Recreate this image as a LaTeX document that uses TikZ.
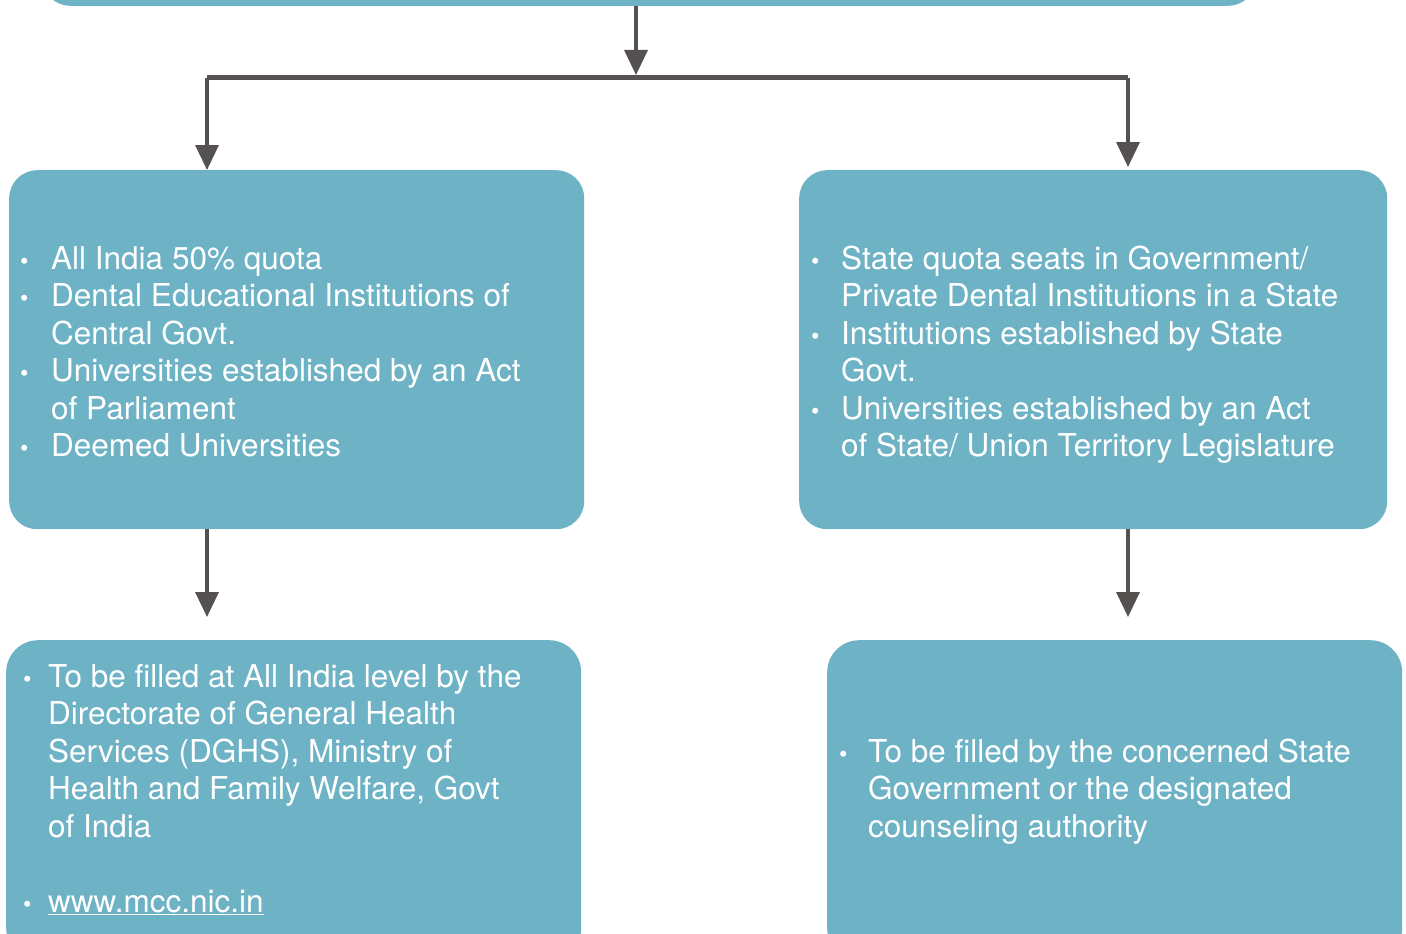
\documentclass[tikz,border=0pt]{standalone}
\usepackage{fontspec}
\setmainfont{TeX Gyre Heros}
\usetikzlibrary{arrows.meta}
\definecolor{boxblue}{HTML}{6EB2C5}
\definecolor{arrowgrey}{HTML}{555150}
\setlength{\parindent}{0pt}
\newcommand{\bul}{{\fontsize{24}{24}\selectfont\textbullet}}
\tikzset{
  box/.style={fill=boxblue, rounded corners=28pt, anchor=north west, inner sep=0pt},
  txt/.style={anchor=base west, inner sep=0pt, text=white,
    font=\fontsize{31.5}{37.5}\selectfont},
  arr/.style={draw=arrowgrey, line width=3.5pt, -{Triangle[length=25pt,width=23pt]}},
  bar/.style={draw=arrowgrey, line width=5pt}
}
\begin{document}
\begin{tikzpicture}[x=1pt,y=-1pt]
\useasboundingbox (0,0) rectangle (1406,934);

% boxes
\node[box, anchor=south west, minimum width=1214pt, minimum height=90pt] (top) at (42,6) {};
\node[box, minimum width=575pt, minimum height=359pt] (central) at (9,170) {};
\node[box, minimum width=588pt, minimum height=359pt] (state) at (799,170) {};
\node[box, rounded corners=32pt, minimum width=575pt, minimum height=320pt] (mcc) at (6,640) {};
\node[box, rounded corners=32pt, minimum width=575pt, minimum height=320pt] (counsel) at (827,640) {};

% texts
\node[txt] (centraltxt) at (20,269) {\begin{tabular}[t]{@{}p{31pt}@{}l@{}}
\bul & All India 50\% quota\\
\bul & Dental Educational Institutions of\\
     & Central Govt.\\
\bul & Universities established by an Act\\
     & of Parliament\\
\bul & Deemed Universities
\end{tabular}};
\node[txt] (statetxt) at (811,269) {\begin{tabular}[t]{@{}p{30pt}@{}l@{}}
\bul & State quota seats in Government/\\
     & Private Dental Institutions in a State\\
\bul & Institutions established by State\\
     & Govt.\\
\bul & Universities established by an Act\\
     & of State/ Union Territory Legislature
\end{tabular}};
\node[txt] (mcctxt) at (23,687) {\begin{tabular}[t]{@{}p{25pt}@{}l@{}}
\bul & To be filled at All India level by the\\
     & Directorate of General Health\\
     & Services (DGHS), Ministry of\\
     & Health and Family Welfare, Govt\\
     & of India\\
     & \\
\bul & \underline{www.mcc.nic.in}
\end{tabular}};
\node[txt] (counseltxt) at (839,762) {\begin{tabular}[t]{@{}p{29pt}@{}l@{}}
\bul & To be filled by the concerned State\\
     & Government or the designated\\
     & counseling authority
\end{tabular}};

% connectors
\coordinate (split) at (636,78);
\coordinate (splitl) at (207,78);
\coordinate (splitr) at (1128,78);
\draw[arr, shorten >=3pt] (top.south -| split) -- (split);
\draw[bar] (splitl) -- (splitr);
\draw[arr] (splitl) -- (central.north -| splitl);
\draw[arr, shorten >=3pt] (splitr) -- (state.north -| splitr);
\draw[arr, shorten >=23pt] (central.south -| splitl) -- (mcc.north -| splitl);
\draw[arr, shorten >=23pt] (state.south -| splitr) -- (counsel.north -| splitr);
\end{tikzpicture}
\end{document}
